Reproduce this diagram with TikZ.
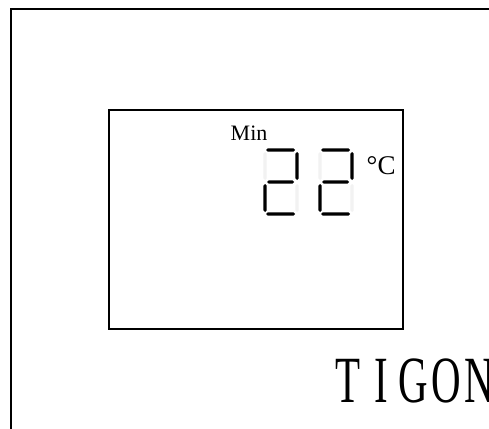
\documentclass[tikz,border=0pt]{standalone}
\usepackage{fontspec}
\setmainfont{Liberation Serif}
\newcommand\hsegm[3]{\fill (#1,#3) -- (#1+1.6,#3-1.6) -- (#2-1.6,#3-1.6) -- (#2,#3) -- (#2-1.6,#3+1.6) -- (#1+1.6,#3+1.6) -- cycle;}
\newcommand\vsegm[3]{\fill (#1,#2) -- (#1+1.6,#2+1.6) -- (#1+1.6,#3-1.6) -- (#1,#3) -- (#1-1.6,#3-1.6) -- (#1-1.6,#2+1.6) -- cycle;}
\newcommand\digittwo[1]{%
  \begin{scope}[xshift=#1]
    \begin{scope}[black!5]
      \vsegm{265}{152}{180}
      \vsegm{297}{184}{212}
    \end{scope}
    \hsegm{266}{295}{150}
    \vsegm{297}{152}{180}
    \hsegm{267}{294}{182}
    \vsegm{265}{184}{212}
    \hsegm{266}{295}{214}
  \end{scope}}
\newcommand\tg[1]{\makebox[53pt][c]{#1}}
\tikzset{frame/.style={draw=black,line width=2pt}}
\begin{document}
\begin{tikzpicture}[x=1pt,y=-1pt]
  \useasboundingbox (0,0) rectangle (489,428);
  \clip (0,0) rectangle (489,428);
  \fill[white] (0,0) rectangle (489,428);
  \draw[frame] (10.5,9.5) rectangle (520,460);
  \draw[frame] (109,109.5) rectangle (403,329);
  \digittwo{0pt}
  \digittwo{55pt}
  \node[anchor=base west,inner sep=0pt,font=\fontsize{22}{22}\selectfont] (min) at (230.5,140) {Min};
  \node[anchor=base west,inner sep=0pt,font=\fontsize{27}{27}\selectfont] (unit) at (366.5,174) {°C};
  \node[anchor=base west,inner sep=0pt,xscale=0.62,font=\fontsize{66}{66}\selectfont] (brand) at (331.5,402) {\tg{T}\tg{I}\tg{G}\tg{O}\tg{N}};
\end{tikzpicture}
\end{document}
